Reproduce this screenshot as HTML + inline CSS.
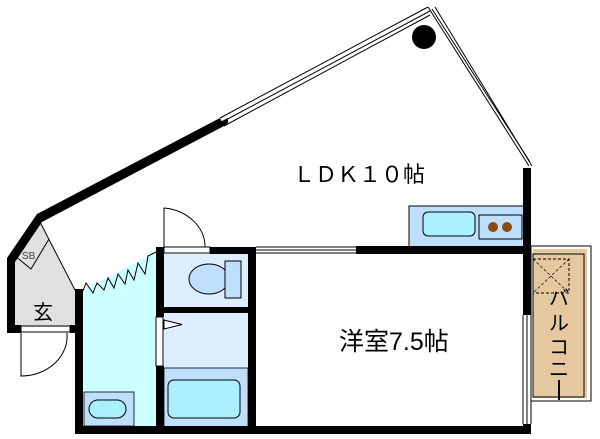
<!DOCTYPE html>
<html><head><meta charset="utf-8"><style>
html,body{margin:0;padding:0;background:#fff;}
svg{display:block;}
text{font-family:"Liberation Sans","Noto Sans CJK JP",sans-serif;}
</style></head><body>
<svg width="600" height="439" viewBox="0 0 600 439" xmlns="http://www.w3.org/2000/svg">
<!-- fills -->
<polygon points="12,262 40,222 75,290 75,327 12,327" fill="#e0e0e0"/>
<polygon points="83,290 156,252 156,430 83,430" fill="#ccffff"/>
<rect x="164" y="254" width="84" height="53" fill="#ddeeff"/>
<rect x="164" y="313" width="84" height="55" fill="#ddeeff"/>
<rect x="164" y="368" width="84" height="62" fill="#bfdfff" stroke="#000" stroke-width="0.8"/>
<rect x="168" y="380" width="72" height="38" rx="6" fill="#aaf0ff" stroke="#000"/>
<rect x="84" y="392" width="50" height="34" fill="#bfdfff" stroke="#000" stroke-width="0.8"/>
<rect x="89" y="400" width="37" height="18" rx="9" fill="#aaf0ff" stroke="#000"/>
<ellipse cx="209" cy="279" rx="20" ry="15" fill="#bfdfff" stroke="#000"/>
<rect x="225" y="261" width="16" height="37" fill="#bfdfff" stroke="#000"/>
<!-- kitchen -->
<rect x="409" y="206" width="115" height="41" fill="#bfdfff" stroke="#000"/>
<rect x="423" y="212" width="52" height="24" rx="5" fill="#aaf0ff" stroke="#000"/>
<rect x="479" y="215" width="43" height="24" fill="#bfdfff" stroke="#000"/>
<circle cx="493" cy="227" r="5" fill="#8b4a10"/><circle cx="507" cy="227" r="5" fill="#8b4a10"/>
<!-- balcony -->
<rect x="531" y="246" width="60" height="155" fill="#fff" stroke="#000"/>
<rect x="533" y="249" width="54" height="149" fill="#e6c8a0"/>
<rect x="533" y="254" width="51" height="143" fill="none" stroke="#000"/>
<rect x="533" y="259" width="36" height="34" fill="none" stroke="#000" stroke-dasharray="3,2"/>
<line x1="533" y1="259" x2="569" y2="293" stroke="#000" stroke-dasharray="3,2" stroke-width="0.7"/>
<line x1="569" y1="259" x2="533" y2="293" stroke="#000" stroke-dasharray="3,2" stroke-width="0.7"/>
<!-- thick walls -->
<g fill="#000">
<polygon points="7,258 37,214 220,118 224,126 42,222 15,262 15,333 7,333"/>
<rect x="7" y="325" width="14" height="8"/>
<rect x="70" y="325" width="8" height="8"/>
<rect x="75" y="289" width="8" height="145"/>
<rect x="75" y="426" width="456" height="8"/>
<rect x="156" y="247" width="8" height="70"/>
<rect x="156" y="366" width="8" height="64"/>
<rect x="210" y="247" width="46" height="7"/>
<rect x="156" y="307" width="100" height="6"/>
<rect x="248" y="247" width="8" height="183"/>
<rect x="356" y="246" width="175" height="8"/>
<rect x="523" y="168" width="8" height="147"/>
<rect x="523" y="424" width="8" height="10"/>
<circle cx="424" cy="37" r="12"/>
</g>
<!-- windows -->
<g stroke="#000" stroke-width="1" fill="none">
<line x1="40" y1="222" x2="75" y2="290"/>
<polyline points="15,256 31,269 49,239"/>
<line x1="220" y1="118" x2="428" y2="7"/><line x1="222" y1="122" x2="430" y2="11"/><line x1="224" y1="126" x2="430" y2="15"/>
<line x1="428" y1="7" x2="529" y2="166"/><line x1="432" y1="9" x2="530" y2="162"/><line x1="435" y1="7" x2="532" y2="166"/>
<line x1="256" y1="247" x2="356" y2="247"/><line x1="256" y1="250" x2="356" y2="250"/><line x1="256" y1="253" x2="356" y2="253"/>
<line x1="523" y1="315" x2="523" y2="424"/><line x1="527" y1="315" x2="527" y2="424"/><line x1="531" y1="315" x2="531" y2="424"/>
<rect x="164" y="247" width="46" height="6"/>
<rect x="21" y="326" width="49" height="6"/>
<rect x="156" y="317" width="7" height="49"/>
<path d="M164,247 V208 A46,39 0 0 1 205,247"/>
<path d="M21,333 V376 A46,40 0 0 0 67,333"/>
<polygon points="164,320 164,329 182,324.5" fill="#fff"/>
<polyline points="83,291 86,283 93,293 97,283 104,290 108,278 114,288 118,274 125,284 128,270 134,280 138,263 145,274 148,256 156,252"/>
</g>
<polygon points="220,122 228,118 228,123 224,126" fill="#000"/>
<text x="22" y="259" font-size="10" fill="#444">SB</text>
<text x="33" y="319" font-size="20">玄</text>
<text x="293" y="182" font-size="22">ＬＤＫ１０帖</text>
<text x="339" y="350" font-size="25">洋室7.5帖</text>
<g font-size="20" text-anchor="middle"><text x="559" y="305">バ</text><text x="559" y="330">ル</text><text x="559" y="354">コ</text><text x="559" y="376">ニ</text></g>
<rect x="558" y="380" width="2" height="20" fill="#000"/>
</svg>
</body></html>
